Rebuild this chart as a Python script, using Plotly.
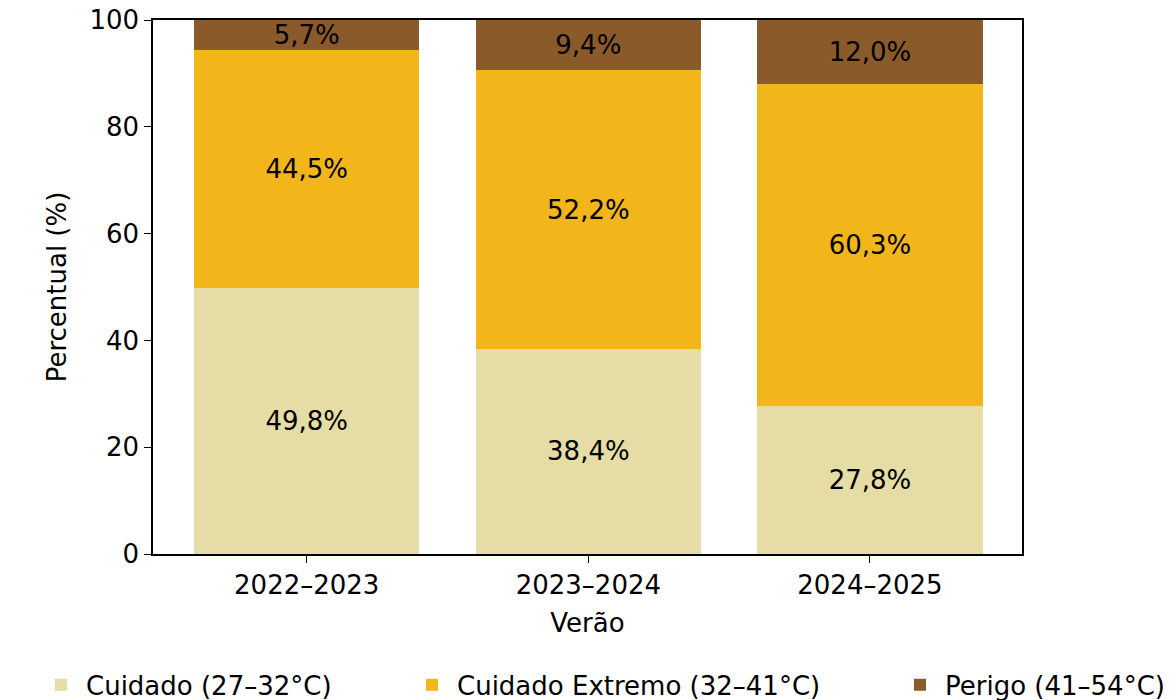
import plotly.graph_objects as go

verao = ['2022–2023', '2023–2024', '2024–2025']
cuidado = [49.8, 38.4, 27.8]
cuidado_extremo = [44.5, 52.2, 60.3]
perigo = [5.7, 9.4, 12.0]

series = [
    ('Cuidado (27–32°C)', cuidado, '#E6DCA6', 'legend'),
    ('Cuidado Extremo (32–41°C)', cuidado_extremo, '#F2B61B', 'legend2'),
    ('Perigo (41–54°C)', perigo, '#8B5A2B', 'legend3'),
]

fig = go.Figure()
for name, vals, color, leg in series:
    fig.add_trace(go.Bar(
        x=verao,
        y=vals,
        name=name,
        legend=leg,
        marker_color=color,
        marker_line_width=0,
        text=[f'{v:.1f}%'.replace('.', ',') for v in vals],
        textposition='inside',
        insidetextanchor='middle',
        textangle=0,
        constraintext='none',
        textfont=dict(color='black', size=26),
    ))

# plot area spans 153..1022 px horizontally
def px_to_paper(px):
    return (px - 153) / 869

leg_style = dict(orientation='h', y=-0.245, yanchor='middle', xanchor='left',
                 font=dict(size=26), itemwidth=40, bgcolor='rgba(0,0,0,0)')

fig.update_layout(
    barmode='stack',
    bargap=0.2,
    width=1175,
    height=700,
    plot_bgcolor='white',
    paper_bgcolor='white',
    font=dict(family='DejaVu Sans', size=26, color='black'),
    margin=dict(l=153, r=153, t=20, b=146, autoexpand=False),
    showlegend=True,
    legend=dict(x=px_to_paper(36), **leg_style),
    legend2=dict(x=px_to_paper(407), **leg_style),
    legend3=dict(x=px_to_paper(895), **leg_style),
)
fig.update_xaxes(
    title_text='Verão',
    title_font=dict(size=26),
    range=[-0.546, 2.54],
    showline=True, linecolor='black', linewidth=1.5, mirror=True,
    ticks='outside', ticklen=7, tickcolor='black',
    tickfont=dict(size=26),
    showgrid=False,
)
fig.update_yaxes(
    title_text='Percentual (%)',
    title_font=dict(size=26),
    range=[0, 100],
    tickvals=[0, 20, 40, 60, 80, 100],
    showline=True, linecolor='black', linewidth=1.5, mirror=True,
    ticks='outside', ticklen=7, tickcolor='black',
    tickfont=dict(size=26),
    showgrid=False, zeroline=False,
)

# drop the default 8px body margin so the figure fills the window
fig.write_html('out.html', config={'displayModeBar': False},
               post_script="document.body.style.margin='0';")
